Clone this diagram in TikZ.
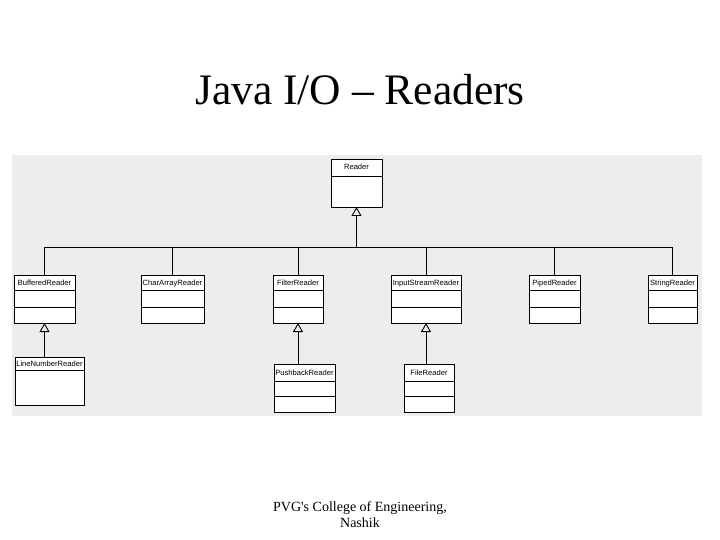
\documentclass[tikz,border=0pt]{standalone}
\usepackage{fontspec}
\setmainfont{Liberation Serif}
\newfontfamily\umlfont{Liberation Sans}
\usetikzlibrary{arrows.meta,calc}
\definecolor{panelgray}{HTML}{EDEDED}
\def\boxh{48}
% class box: name, x, y, width, name height, dividers, label
\newcommand{\umlclass}[7]{%
  \fill[black] (#2+1.3,#3+1.3) rectangle ++(#4,\boxh);
  \node[classbox,minimum width=#4pt,minimum height=\boxh pt,anchor=north west] (#1) at (#2,#3) {};
  \foreach \d in {#6} \draw ([yshift=-\d pt]#1.north west) -- ([yshift=-\d pt]#1.north east);
  \node[classname] at ([yshift={-#5/2*1pt}]#1.north) {#7};
}
\tikzset{
  classbox/.style={draw,fill=white,inner sep=0pt,outer sep=0pt},
  classname/.style={font=\umlfont\fontsize{7.6}{8}\selectfont,inner sep=0pt,text height=5.6pt,text depth=0.6pt},
  inherit/.style={-{Triangle[open,width=10pt,length=9pt]}},
}
\begin{document}
\begin{tikzpicture}[x=1pt,y=-1pt,line width=0.9pt]
  \useasboundingbox (0,0) rectangle (720,540);
  \fill[panelgray] (12,155) rectangle (702,416);
  \node[font=\fontsize{43.5}{48}\selectfont,anchor=base] (title) at (360,105) {Java I/O -- Readers};
  % top class
  \umlclass{reader}{331}{159}{51}{17}{17}{Reader}
  % first level
  \umlclass{buf}{14}{275}{61}{15}{15,32}{BufferedReader}
  \umlclass{chararr}{141}{275}{63}{15}{15,32}{CharArrayReader}
  \umlclass{filter}{273}{275}{50}{15}{15,32}{FilterReader}
  \umlclass{isr}{391}{275}{70}{15}{15,32}{InputStreamReader}
  \umlclass{piped}{529}{275}{51}{15}{15,32}{PipedReader}
  \umlclass{string}{648}{275}{49}{15}{15,32}{StringReader}
  % second level
  \umlclass{lnr}{15}{357}{69}{13}{13}{LineNumberReader}
  \umlclass{push}{274}{364}{61}{17}{17,32}{PushbackReader}
  \umlclass{file}{404}{364}{50}{17}{17,32}{FileReader}
  % generalisation
  \path (reader.south) ++(0,40) coordinate (joint);
  \draw[inherit] (joint) -- (reader.south);
  \foreach \n in {buf,chararr,filter,isr,piped,string}
    \draw (\n.north) |- (joint);
  \draw[inherit] (lnr.north -| buf.south) -- (buf.south);
  \draw[inherit] (push.north -| filter.south) -- (filter.south);
  \draw[inherit] (file.north -| isr.south) -- (isr.south);
  \node[font=\fontsize{14}{16}\selectfont,align=center,anchor=north] (footer) at (360,498)
    {PVG\textquotesingle s College of Engineering,\\Nashik};
\end{tikzpicture}
\end{document}
